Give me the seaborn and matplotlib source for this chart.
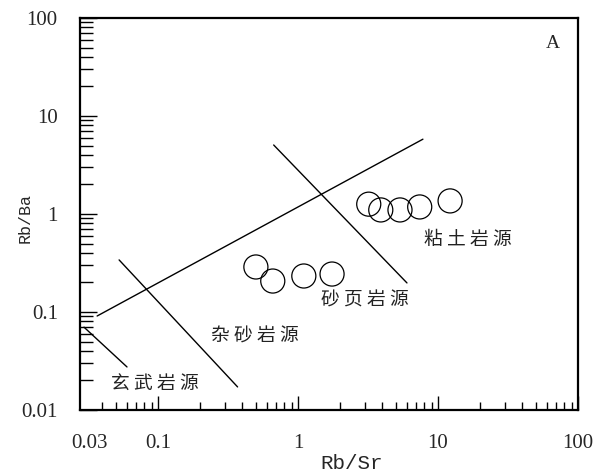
import matplotlib
matplotlib.use("Agg")
import matplotlib.pyplot as plt
import seaborn as sns
import pandas as pd
import numpy as np
from matplotlib.ticker import LogLocator, FixedLocator, FixedFormatter, NullFormatter

# ---- data ----
rb_sr = [0.50, 0.66, 1.10, 1.75, 3.2, 3.9, 5.35, 7.4, 12.2]
rb_ba = [0.288, 0.207, 0.233, 0.244, 1.26, 1.10, 1.10, 1.18, 1.36]

# boundary lines (x pairs, y pairs)
line_main_x = [0.0367, 7.8]
line_main_y = [0.091, 5.8]
line_basalt_x = [0.0296, 0.060]
line_basalt_y = [0.070, 0.0275]
line_grey_x = [0.0527, 0.37]
line_grey_y = [0.34, 0.0172]
line_shale_x = [0.67, 6.0]
line_shale_y = [5.06, 0.198]

region_labels = ["玄 武 岩 源", "杂 砂 岩 源", "砂 页 岩 源", "粘 土 岩 源"]
region_x = [0.095, 0.493, 3.01, 16.4]
region_y = [0.0189, 0.0569, 0.132, 0.543]

xtick_vals = [0.03, 0.1, 1, 10, 100]
xtick_labels = ["0.03", "0.1", "1", "10", "100"]
ytick_vals = [0.01, 0.1, 1, 10, 100]
ytick_labels = ["0.01", "0.1", "1", "10", "100"]

sns.set_theme(style="white")
plt.rcParams['font.family'] = ['Liberation Serif', 'Noto Sans CJK SC', 'DejaVu Sans']

fig = plt.figure(figsize=(6.06, 4.74), dpi=100)
ax = fig.add_axes([80/606, 1 - 410/474, 498/606, 392/474])

df = pd.DataFrame({"x": rb_sr, "y": rb_ba})
sns.scatterplot(data=df, x="x", y="y", ax=ax, s=300, facecolor="none",
                edgecolor="black", linewidth=0.9, marker="o", zorder=3)

for xs, ys in [(line_main_x, line_main_y), (line_basalt_x, line_basalt_y),
               (line_grey_x, line_grey_y), (line_shale_x, line_shale_y)]:
    sns.lineplot(x=xs, y=ys, ax=ax, color="black", linewidth=1.0, sort=False,
                 estimator=None)

ax.set_xscale("log")
ax.set_yscale("log")
ax.set_xlim(0.0277, 100)
ax.set_ylim(0.01, 100)

ax.xaxis.set_major_locator(FixedLocator(xtick_vals))
ax.xaxis.set_major_formatter(FixedFormatter(xtick_labels))
ax.xaxis.set_minor_locator(LogLocator(base=10, subs=np.arange(2, 10)))
ax.xaxis.set_minor_formatter(NullFormatter())
ax.yaxis.set_major_locator(FixedLocator(ytick_vals))
ax.yaxis.set_major_formatter(FixedFormatter(ytick_labels))
ax.yaxis.set_minor_locator(LogLocator(base=10, subs=np.arange(2, 10)))
ax.yaxis.set_minor_formatter(NullFormatter())

ax.tick_params(axis="x", which="major", direction="in", length=10, width=1,
               pad=17, labelsize=15, color="black", bottom=True, top=False)
ax.tick_params(axis="x", which="minor", direction="in", length=6, width=1,
               bottom=True, top=False, color="black")
ax.tick_params(axis="y", which="major", direction="in", length=12, width=1,
               pad=16, labelsize=15, color="black", left=True, right=False)
ax.tick_params(axis="y", which="minor", direction="in", length=9, width=1,
               left=True, right=False, color="black")
# label-only tick at 0.03
t0 = ax.xaxis.get_major_ticks()[0]
t0.tick1line.set_visible(False)
import matplotlib.transforms as mtransforms
t0.label1.set_transform(t0.label1.get_transform() +
                        mtransforms.ScaledTranslation(5/100, 0, fig.dpi_scale_trans))

for sp in ax.spines.values():
    sp.set_color("black")
    sp.set_linewidth(1.6)

ax.set_xlabel("Rb/Sr", fontsize=15, family="Liberation Mono")
ax.xaxis.set_label_coords((352 - 80) / 498, (410 - 454) / 392)
ax.set_ylabel("Rb/Ba", fontsize=12, family="Liberation Mono")
ax.yaxis.set_label_coords((33 - 80) / 498, 0.49)

for lab, xx, yy in zip(region_labels, region_x, region_y):
    ax.text(xx, yy, lab, fontsize=13.5, ha="center", va="center",
            family=['Noto Sans CJK SC', 'DejaVu Sans'], color="#222222")

ax.text(0.95, 0.935, "A", transform=ax.transAxes, fontsize=14, ha="center", va="center")

fig.savefig("out.png", dpi=100)
